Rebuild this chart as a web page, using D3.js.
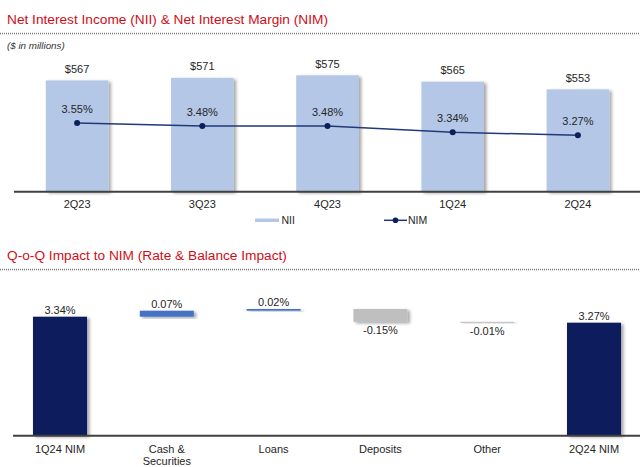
<!DOCTYPE html>
<html><head><meta charset="utf-8">
<script src="https://cdn.jsdelivr.net/npm/d3@7"></script>
<style>
html,body{margin:0;padding:0;background:#fff;}
svg{display:block;font-family:"Liberation Sans",Arial,sans-serif;}
</style></head>
<body>
<script>
// ---- data ----
const quarters = ["2Q23","3Q23","4Q23","1Q24","2Q24"];
const nii = [567, 571, 575, 565, 553];
const nim = [3.55, 3.48, 3.48, 3.34, 3.27];

const wfCategories = ["1Q24 NIM","Cash & Securities","Loans","Deposits","Other","2Q24 NIM"];
const wfLabels = [["1Q24 NIM"],["Cash &","Securities"],["Loans"],["Deposits"],["Other"],["2Q24 NIM"]];
const wfValues = [3.34, 0.07, 0.02, -0.15, -0.01, 3.27];
const wfTypes = ["total","delta","delta","delta","delta","total"];

const W = 640, H = 467;
const svg = d3.select("body").append("svg").attr("width", W).attr("height", H);

const defs = svg.append("defs");
const f = defs.append("filter").attr("id","sh").attr("x","-20%").attr("y","-20%").attr("width","150%").attr("height","150%");
f.append("feDropShadow").attr("dx",2.5).attr("dy",1.5).attr("stdDeviation",1.4)
  .attr("flood-color","#000").attr("flood-opacity",0.35);

const red = "#d00d17";
// ---- titles ----
function title(txt, baseY, lineY){
  svg.append("text").attr("x",7).attr("y",baseY).attr("fill",red)
    .attr("font-size",13.7).text(txt);
  svg.append("line").attr("x1",0).attr("x2",W).attr("y1",lineY).attr("y2",lineY)
    .attr("stroke","#7a7a7a").attr("stroke-width",1.3).attr("stroke-dasharray","1,1");
}
title("Net Interest Income (NII) & Net Interest Margin (NIM)", 24, 33.5);
title("Q-o-Q Impact to NIM (Rate & Balance Impact)", 259.5, 269.5);

svg.append("text").attr("x",7).attr("y",48.5).attr("font-size",9.8)
  .attr("font-style","italic").attr("fill","#333").text("($ in millions)");

// ---- top chart ----
const x1 = d3.scaleBand().domain(quarters).range([14.5, 640.5]).paddingInner(0.5).paddingOuter(0.25);
const yNII = d3.scaleLinear().domain([393, 575]).range([191.7, 75.3]);
const yNIM = d3.scaleLinear().domain([3.27, 3.55]).range([135.3, 123]);

const gTop = svg.append("g");
gTop.selectAll("rect.nii").data(quarters).join("rect").attr("class","nii")
  .attr("x", d => x1(d)).attr("width", x1.bandwidth())
  .attr("y", (d,i) => yNII(nii[i])).attr("height", (d,i) => yNII.range()[0] - yNII(nii[i]))
  .attr("fill","#b4c7e7").attr("filter","url(#sh)");

gTop.selectAll("text.nv").data(quarters).join("text").attr("class","nv")
  .attr("x", d => x1(d) + x1.bandwidth()/2).attr("y", (d,i) => yNII(nii[i]) - 7.5)
  .attr("text-anchor","middle").attr("font-size",11).attr("fill","#262626")
  .text((d,i) => "$" + nii[i]);

// axis baseline
svg.append("line").attr("x1",14).attr("x2",W).attr("y1",191.7).attr("y2",191.7)
  .attr("stroke","#404040").attr("stroke-width",2);

const xAx1 = svg.append("g").attr("transform","translate(0,191.7)")
  .call(d3.axisBottom(x1).tickSize(0).tickPadding(9));
xAx1.select(".domain").remove();
xAx1.selectAll("text").attr("font-size",11).attr("fill","#262626").attr("font-family","Liberation Sans, Arial, sans-serif");

const line = d3.line().x((d,i) => x1(quarters[i]) + x1.bandwidth()/2).y(d => yNIM(d));
gTop.append("path").datum(nim).attr("d", line).attr("fill","none")
  .attr("stroke","#1f3a78").attr("stroke-width",1.5);
gTop.selectAll("circle.nim").data(nim).join("circle").attr("class","nim")
  .attr("cx",(d,i) => x1(quarters[i]) + x1.bandwidth()/2).attr("cy", d => yNIM(d))
  .attr("r",3).attr("fill","#0b1f5c");
gTop.selectAll("text.nimv").data(nim).join("text").attr("class","nimv")
  .attr("x",(d,i) => x1(quarters[i]) + x1.bandwidth()/2).attr("y", d => yNIM(d) - 10.5)
  .attr("text-anchor","middle").attr("font-size",11).attr("fill","#262626")
  .text(d => d.toFixed(2) + "%");

// legend
svg.append("rect").attr("x",255).attr("y",218.5).attr("width",24).attr("height",3.5).attr("fill","#b4c7e7");
svg.append("text").attr("x",281.5).attr("y",224).attr("font-size",10.5).attr("fill","#262626").text("NII");
svg.append("line").attr("x1",384).attr("x2",407).attr("y1",220.3).attr("y2",220.3).attr("stroke","#1f3a78").attr("stroke-width",1.5);
svg.append("circle").attr("cx",395.5).attr("cy",220.3).attr("r",2.8).attr("fill","#0b1f5c");
svg.append("text").attr("x",408).attr("y",224).attr("font-size",10.5).attr("fill","#262626").text("NIM");

// ---- waterfall ----
const x2 = d3.scaleBand().domain(wfCategories).range([6.6, 647.4]).paddingInner(0.494).paddingOuter(0.247);
const yW = d3.scaleLinear().domain([1.95, 3.34]).range([435.7, 316.7]);

let run = 0;
const wf = wfValues.map((v,i) => {
  let lo, hi;
  if (wfTypes[i] === "total") { lo = yW.domain()[0]; hi = v; run = v; }
  else { const s = run; run = run + v; lo = Math.min(s, run); hi = Math.max(s, run); }
  return {cat: wfCategories[i], v, lo, hi, type: wfTypes[i]};
});
const wfColor = d => d.type === "total" ? "#0b1f5c" : (d.v >= 0 ? "#4472c4" : "#bfbfbf");

svg.selectAll("rect.wf").data(wf).join("rect").attr("class","wf")
  .attr("x", d => x2(d.cat)).attr("width", x2.bandwidth())
  .attr("y", d => yW(d.hi)).attr("height", d => Math.max(1, yW(d.lo) - yW(d.hi)))
  .attr("fill", wfColor).attr("filter","url(#sh)");

svg.selectAll("text.wfv").data(wf).join("text").attr("class","wfv")
  .attr("x", d => x2(d.cat) + x2.bandwidth()/2)
  .attr("y", d => d.v >= 0 ? yW(d.hi) - 2.5 : yW(d.lo) + 12)
  .attr("text-anchor","middle").attr("font-size",11).attr("fill","#262626")
  .text(d => d.v.toFixed(2) + "%");

svg.append("line").attr("x1",13).attr("x2",W).attr("y1",435.7).attr("y2",435.7)
  .attr("stroke","#404040").attr("stroke-width",2);

const xAx2 = svg.append("g").attr("transform","translate(0,435.7)")
  .call(d3.axisBottom(x2).tickSize(0).tickPadding(0).tickFormat(() => ""));
xAx2.select(".domain").remove();
xAx2.selectAll(".tick text").each(function(d,i){
  const t = d3.select(this).attr("font-size",11).attr("fill","#262626")
    .attr("font-family","Liberation Sans, Arial, sans-serif").attr("dy",null).attr("y",17.3);
  wfLabels[i].forEach((s,k) => t.append("tspan").attr("x",0).attr("dy", k===0 ? 0 : 11.7).text(s));
});
</script>
</body></html>
